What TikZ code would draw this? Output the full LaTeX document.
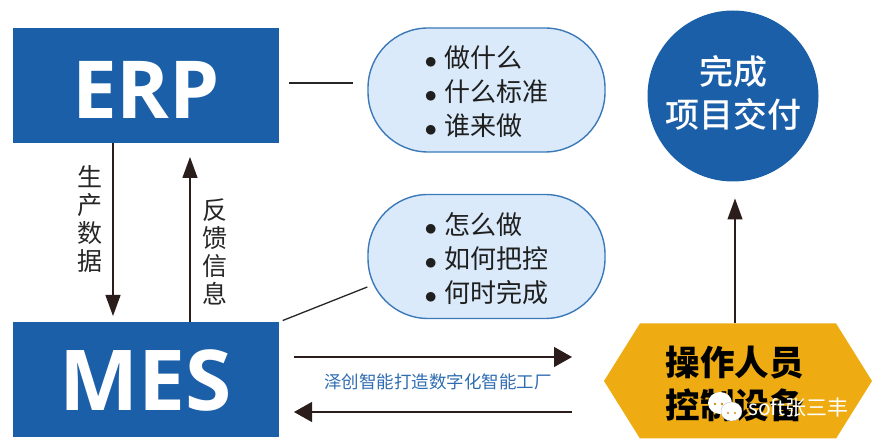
\documentclass[tikz,border=0pt]{standalone}
\usepackage{fontspec}
\setmainfont{Noto Sans CJK SC}
\newfontfamily\cjkmedium{Noto Sans CJK SC Medium}
\newfontfamily\latinbold{Open Sans}
\usetikzlibrary{arrows.meta,shapes.symbols}
\definecolor{boxblue}{HTML}{1C5FA9}
\definecolor{bubblefill}{HTML}{DAEAFA}
\definecolor{bubbleline}{HTML}{3B79B9}
\definecolor{hexgold}{HTML}{EEAC12}
\definecolor{arrowdark}{HTML}{2B1D1B}
\definecolor{labelblue}{HTML}{2F6DB2}
\newcommand{\bul}{\makebox[20pt][l]{\raisebox{-1pt}{\fontsize{32}{32}\selectfont$\bullet$}}}
\tikzset{
  sysbox/.style={fill=boxblue,text=white,minimum width=266pt,minimum height=115pt,inner sep=0pt,outer sep=0pt,font=\latinbold\bfseries\fontsize{80}{80}\selectfont},
  bubble/.style={draw=bubbleline,line width=1.4pt,fill=bubblefill,rounded corners=60pt,minimum width=237pt,minimum height=124pt,inner sep=0pt},
  bubbletext/.style={text=black!88,inner sep=0pt,align=left,font=\fontsize{26}{34}\selectfont},
  thinline/.style={draw=black!85,line width=1.3pt},
  bigarrow/.style={draw=arrowdark,line width=1.3pt,-{Triangle[width=15pt,length=21pt]}},
  flatarrow/.style={draw=arrowdark,line width=1.3pt,-{Triangle[width=20pt,length=18pt]}},
  sidelabel/.style={text=black!85,align=center,inner sep=0pt,font=\fontsize{25}{28}\selectfont},
}
\begin{document}
\begin{tikzpicture}[x=1pt,y=1pt]
  \useasboundingbox (0,0) rectangle (878,447);
  % boxes on the left
  \node[sysbox] (erp) at (146,361.5) {\raisebox{-33.5pt}[0pt][0pt]{ERP}};
  \node[sysbox,font=\latinbold\bfseries\fontsize{84}{84}\selectfont] (mes) at (146,67.5) {\raisebox{-31.5pt}[0pt][0pt]{MES}};
  % bubbles
  \node[bubble] (what) at (486.5,357) {};
  \node[bubbletext] (whattext) at (486.5,355) {\bul 做什么\\ \bul 什么标准\\ \bul 谁来做};
  \node[bubble] (how) at (486.5,190.5) {};
  \node[bubbletext] (howtext) at (486.5,188.5) {\bul 怎么做\\ \bul 如何把控\\ \bul 何时完成};
  % right side
  \node[circle,fill=boxblue,minimum size=171pt,inner sep=0pt,outer sep=0pt] (done) at (733,351) {};
  \node[text=white,inner sep=0pt,align=center,font=\cjkmedium\fontsize{34}{43}\selectfont] (donetext) at (733,354.5) {完成\\项目交付};
  \node[signal,signal to=west and east,signal pointer angle=116,fill=hexgold,minimum width=268pt,minimum height=115pt,inner sep=0pt,outer sep=0pt] (oper) at (738,66) {};
  \node[text=black,inner sep=0pt,align=center,font=\bfseries\fontsize{34.5}{43}\selectfont] (opertext) at (734.5,63) {操作人员\\控制设备};
  % labels
  \node[sidelabel] (lbldata) at (90,227.5) {生\\产\\数\\据};
  \node[sidelabel] (lblfeed) at (215,195.5) {反\\馈\\信\\息};
  \node[text=labelblue,inner sep=0pt,font=\fontsize{17.5}{20}\selectfont] (lblfact) at (438,65) {泽创智能打造数字化智能工厂};
  % connectors
  \draw[thinline,shorten <=10pt,shorten >=14pt] ([yshift=2.5pt]erp.east) -- ([yshift=7pt]what.west);
  \draw[thinline,shorten <=4pt] (mes.north east) -- (how.south west |- 0,160);
  \draw[bigarrow,shorten >=6pt] ([xshift=-33pt]erp.south) -- ([xshift=-33pt]mes.north);
  \draw[bigarrow,shorten >=14pt] ([xshift=44pt]mes.north) -- ([xshift=44pt]erp.south);
  \draw[flatarrow,shorten <=15pt] ([yshift=22.5pt]mes.east) -- ([xshift=-32pt,yshift=24pt]oper.west);
  \draw[flatarrow,shorten >=15pt] ([xshift=-32pt,yshift=-31pt]oper.west) -- ([yshift=-32.5pt]mes.east);
  \draw[bigarrow,line width=1.2pt,shorten >=17pt] ([xshift=-3pt]oper.north) -- ([xshift=2pt]done.south);
  % watermark
  \fill[white] (720,44) ellipse (12pt and 11pt);
  \fill[white,draw=black!30,line width=0.3pt] (731.5,35.5) ellipse (10.5pt and 9.5pt);
  \fill[hexgold!85!black] (715,43) circle (1.3pt) (722,43) circle (1.3pt) (728,34) circle (1.2pt) (735,34) circle (1.2pt);
  \node[text=white,inner sep=0pt,font=\fontsize{21}{21}\selectfont] (mark) at (798.5,39) {soft张三丰};
\end{tikzpicture}
\end{document}
